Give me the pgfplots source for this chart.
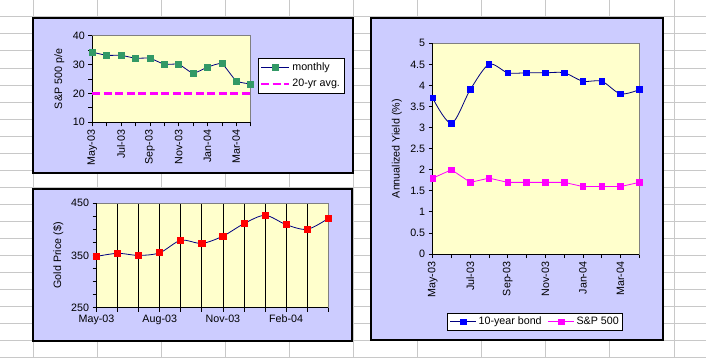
\documentclass[border=0pt]{standalone}
\usepackage{pgfplots}
\pgfplotsset{compat=1.18}
\usepackage{fontspec}
\setmainfont{Liberation Sans}
\definecolor{lav}{HTML}{CCCCFF}
\definecolor{plotbg}{HTML}{FFFFCC}
\definecolor{navy}{HTML}{000080}
\definecolor{sgreen}{HTML}{339966}
\definecolor{cellgray}{HTML}{C8C8C8}
\definecolor{bordgray}{HTML}{808080}
\definecolor{xmag}{HTML}{FF00FF}
\definecolor{xred}{HTML}{FF0000}
\definecolor{xblue}{HTML}{0000FF}
\newcommand\fs{\fontsize{10.7}{12.5}\selectfont}
\pgfplotsset{excel/.style={
  scale only axis,
  axis background/.style={fill=plotbg},
  axis line style={draw=bordgray, line width=0.8pt},
  tick align=outside, tick pos=left,
  tick style={black, line width=0.8pt},
  major tick length=4pt, minor tick length=4pt,
  xmin=0, xmax=11, xtick={0,...,11},
  ticklabel style={font=\fs, black},
  /pgf/number format/assume math mode=true,
  label style={font=\fs},
  clip=false,
  legend style={font=\fs, draw=black, fill=white, line width=0.8pt},
}}
\begin{document}
\begin{tikzpicture}
% spreadsheet background
\begin{scope}[x=1pt,y=1pt]
\path[use as bounding box] (0,0) rectangle (706,357);
\fill[white] (0,0) rectangle (706,357);
\foreach \k in {0,...,10} \draw[cellgray, line width=1pt] ({33+64.1*\k},0) -- ({33+64.1*\k},357);
\foreach \k in {0,...,21} \draw[cellgray, line width=1pt] (0,{357-17*\k}) -- (706,{357-17*\k});
\filldraw[fill=lav, draw=black, line width=1.5pt] (33,339) rectangle (353,184);
\filldraw[fill=lav, draw=black, line width=1.5pt] (33,168) rectangle (352,16);
\filldraw[fill=lav, draw=black, line width=1.5pt] (371,339) rectangle (663,17);
\end{scope}

% ---------- top-left: S&P 500 p/e ----------
\begin{axis}[excel,
  at={(92.3pt,234.7pt)}, anchor=south west,
  width=158.4pt, height=86.6pt,
  ymin=10, ymax=40, ytick={10,20,30,40}, minor y tick num=1,
  xticklabels={May-03,,Jul-03,,Sep-03,,Nov-03,,Jan-04,,Mar-04,},
  xticklabel style={rotate=90, anchor=east},
  ylabel={S\&P 500 p/e},
  ylabel style={at={(axis description cs:-0.208,0.5)}, anchor=center},
  legend style={at={(axis description cs:1.044,0.746)}, anchor=north west,
    inner xsep=2pt, inner ysep=3pt, row sep=3pt, cells={anchor=west}},
]
\draw[black, line width=0.8pt] (rel axis cs:0,1) -- (rel axis cs:0,0) -- (rel axis cs:1,0);
\addplot[navy, line width=0.8pt, smooth, tension=0.3, mark=square*, mark size=3pt,
  mark options={solid, fill=sgreen, draw=sgreen},
  legend image code/.code={\draw[mark repeat=2,mark phase=2] plot coordinates {(0pt,0pt) (14pt,0pt) (28pt,0pt)};}]
  coordinates {(0,34.3) (1,33.2) (2,33.2) (3,32.2) (4,32.2) (5,30.1) (6,30.1) (7,27.0) (8,29.1) (9,30.3) (10,24.3) (11,23.3)};
\addlegendentry{monthly}
\addplot[xmag, line width=2.3pt, dash pattern=on 8pt off 3.5pt,
  legend image code/.code={\draw (0pt,0pt) -- (28pt,0pt);}]
  coordinates {(0,20) (11,20)};
\addlegendentry{20-yr avg.}
\end{axis}

% ---------- bottom-left: Gold ----------
\begin{axis}[excel,
  at={(96.5pt,49.5pt)}, anchor=south west,
  width=231.8pt, height=104.2pt,
  ymin=250, ymax=450, ytick={250,350,450}, minor y tick num=3,
  xticklabels={May-03,,,Aug-03,,,Nov-03,,,Feb-04,,},
  xmajorgrids, major x grid style={black, line width=0.8pt},
  ylabel={Gold Price (\$)},
  ylabel style={at={(axis description cs:-0.165,0.5)}, anchor=center},
]
\draw[black, line width=0.8pt] (rel axis cs:0,1) -- (rel axis cs:0,0) -- (rel axis cs:1,0);
\addplot[navy, line width=0.8pt, smooth, tension=0.5, mark=square*, mark size=3.1pt,
  mark options={solid, fill=xred, draw=xred}]
  coordinates {(0,348) (1,354) (2,350) (3,355) (4,379) (5,373) (6,387) (7,411) (8,427) (9,409) (10,400) (11,421)};
\end{axis}

% ---------- right: yields ----------
\begin{axis}[excel,
  at={(432.7pt,103pt)}, anchor=south west,
  width=206.6pt, height=210.7pt,
  ymin=0, ymax=5, ytick={0,0.5,...,5},
  yticklabel style={/pgf/number format/.cd, fixed, precision=1},
  xticklabels={May-03,,Jul-03,,Sep-03,,Nov-03,,Jan-04,,Mar-04,},
  xticklabel style={rotate=90, anchor=east},
  ylabel={Annualized Yield (\%)},
  ylabel style={at={(axis description cs:-0.174,0.5)}, anchor=center},
  legend columns=2,
  legend style={at={(axis description cs:0.4966,-0.3218)}, anchor=center,
    inner xsep=2pt, inner ysep=2pt,
    /tikz/every even column/.append style={column sep=4pt}},
]
\draw[black, line width=0.8pt] (rel axis cs:0,1) -- (rel axis cs:0,0) -- (rel axis cs:1,0);
\addplot[navy, line width=0.8pt, smooth, tension=0.5, mark=square*, mark size=2.8pt,
  mark options={solid, fill=xblue, draw=xblue},
  legend image code/.code={\draw[mark repeat=2,mark phase=2] plot coordinates {(0pt,0pt) (13pt,0pt) (26pt,0pt)};}]
  coordinates {(0,3.7) (1,3.1) (2,3.9) (3,4.5) (4,4.3) (5,4.3) (6,4.3) (7,4.3) (8,4.1) (9,4.1) (10,3.8) (11,3.9)};
\addlegendentry{10-year bond}
\addplot[xmag, line width=0.8pt, mark=square*, mark size=2.8pt,
  mark options={solid, fill=xmag, draw=xmag},
  legend image code/.code={\draw[mark repeat=2,mark phase=2] plot coordinates {(0pt,0pt) (13pt,0pt) (26pt,0pt)};}]
  coordinates {(0,1.8) (1,2.0) (2,1.7) (3,1.8) (4,1.7) (5,1.7) (6,1.7) (7,1.7) (8,1.6) (9,1.6) (10,1.6) (11,1.7)};
\addlegendentry{S\&P 500}
\end{axis}
\end{tikzpicture}
\end{document}
